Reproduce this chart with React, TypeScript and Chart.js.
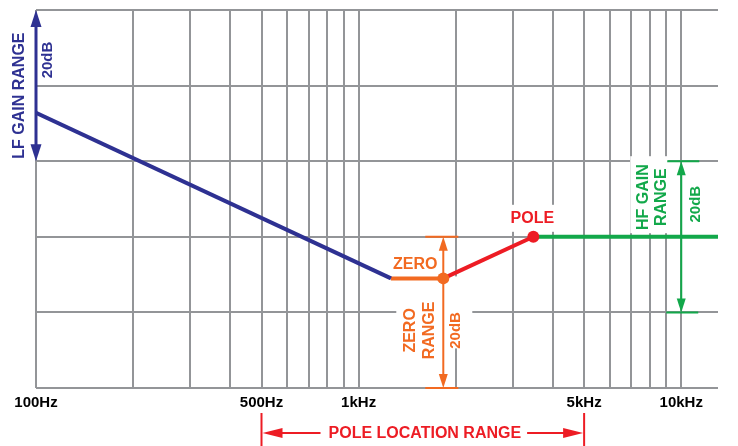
import React, { useEffect, useRef } from 'react';
import { Chart, registerables } from 'chart.js';

Chart.register(...registerables);

// ---- data ----
const freqTicks = [100, 200, 300, 400, 500, 600, 700, 800, 900, 1000, 2000, 3000, 4000, 5000, 6000, 7000, 8000, 9000, 10000];
const freqLabels: Record<number, string> = { 100: '100Hz', 500: '500Hz', 1000: '1kHz', 5000: '5kHz', 10000: '10kHz' };
const gainTicks = [0, 10, 20, 30, 40, 50];

const lfFreq = [100, 1260];
const lfGain = [36.4, 14.5];
const zeroSegFreq = [1260, 1830];
const zeroSegGain = [14.5, 14.5];
const poleSegFreq = [1830, 3480];
const poleSegGain = [14.5, 20];
const hfFreq = [3480, 13000];
const hfGain = [20, 20];

const zeroFreq = 1830;
const zeroGain = 14.5;
const poleFreq = 3480;
const poleGain = 20;

const lfRange = [30, 50];
const zeroRange = [0, 20];
const hfRange = [10, 30];
const hfRangeFreq = 10000;
const poleLocRange = [500, 5000];

const BLUE = '#2e3192';
const ORANGE = '#f26a21';
const RED = '#ed1c24';
const GREEN = '#12a84a';
const GRID = '#939598';
const FONT = '"Liberation Sans", Arial, Helvetica, sans-serif';

const pts = (xs: number[], ys: number[]) => xs.map((x, i) => ({ x, y: ys[i] }));

function head(ctx: CanvasRenderingContext2D, x: number, y: number, dir: string, len: number, half: number, color: string) {
  ctx.save();
  ctx.fillStyle = color;
  ctx.beginPath();
  if (dir === 'up') { ctx.moveTo(x, y); ctx.lineTo(x - half, y + len); ctx.lineTo(x + half, y + len); }
  if (dir === 'down') { ctx.moveTo(x, y); ctx.lineTo(x - half, y - len); ctx.lineTo(x + half, y - len); }
  if (dir === 'left') { ctx.moveTo(x, y); ctx.lineTo(x + len, y - half); ctx.lineTo(x + len, y + half); }
  if (dir === 'right') { ctx.moveTo(x, y); ctx.lineTo(x - len, y - half); ctx.lineTo(x - len, y + half); }
  ctx.closePath();
  ctx.fill();
  ctx.restore();
}

function line(ctx: CanvasRenderingContext2D, x1: number, y1: number, x2: number, y2: number, color: string, w: number) {
  ctx.save();
  ctx.strokeStyle = color;
  ctx.lineWidth = w;
  ctx.beginPath();
  ctx.moveTo(x1, y1);
  ctx.lineTo(x2, y2);
  ctx.stroke();
  ctx.restore();
}

function text(ctx: CanvasRenderingContext2D, t: string, x: number, y: number, color: string, size: number, rotate = false) {
  ctx.save();
  ctx.translate(x, y);
  if (rotate) ctx.rotate(-Math.PI / 2);
  ctx.fillStyle = color;
  ctx.font = `bold ${size}px ${FONT}`;
  ctx.textAlign = 'center';
  ctx.textBaseline = 'middle';
  ctx.fillText(t, 0, 0);
  ctx.restore();
}

const annotations = {
  id: 'annotations',
  beforeDatasetsDraw(chart: any) {
    const ctx = chart.ctx as CanvasRenderingContext2D;
    const xs = chart.scales.x;
    const ys = chart.scales.y;
    ctx.save();
    ctx.fillStyle = '#ffffff';
    const xz = xs.getPixelForValue(zeroFreq);
    const yMid = (ys.getPixelForValue(zeroRange[0]) + ys.getPixelForValue(zeroRange[1])) / 2;
    ctx.fillRect(xz - 47, yMid - 36, 76, 72);
    const xp = xs.getPixelForValue(poleFreq);
    const yp = ys.getPixelForValue(poleGain);
    ctx.fillRect(xp - 26, yp - 32, 52, 27);
    const xh = xs.getPixelForValue(hfRangeFreq);
    const yh = ys.getPixelForValue(hfRange[1]);
    ctx.fillRect(xh - 51, yh - 5, 38, 77);
    ctx.restore();
  },
  afterDatasetsDraw(chart: any) {
    const ctx = chart.ctx as CanvasRenderingContext2D;
    const xs = chart.scales.x;
    const ys = chart.scales.y;

    // LF gain range
    const xl = xs.getPixelForValue(lfFreq[0]);
    const yl1 = ys.getPixelForValue(lfRange[1]);
    const yl0 = ys.getPixelForValue(lfRange[0]);
    line(ctx, xl, yl1 + 10, xl, yl0 - 10, BLUE, 3);
    head(ctx, xl, yl1, 'up', 17, 5.5, BLUE);
    head(ctx, xl, yl0, 'down', 17, 5.5, BLUE);
    text(ctx, 'LF GAIN RANGE', xl - 16, (yl0 + yl1) / 2 + 10, BLUE, 16, true);
    text(ctx, '20dB', xl + 12, yl1 + 50, BLUE, 15, true);

    // zero range
    const xz = xs.getPixelForValue(zeroFreq);
    const yzt = ys.getPixelForValue(zeroRange[1]);
    const yzb = ys.getPixelForValue(zeroRange[0]);
    line(ctx, xz - 18, yzt, xz + 15, yzt, ORANGE, 2);
    line(ctx, xz - 18, yzb, xz + 15, yzb, ORANGE, 2);
    line(ctx, xz, yzt + 8, xz, yzb - 8, ORANGE, 2);
    head(ctx, xz, yzt, 'up', 14, 4.5, ORANGE);
    head(ctx, xz, yzb, 'down', 14, 4.5, ORANGE);
    const yzMid = (yzt + yzb) / 2 + 18;
    const yzp = ys.getPixelForValue(zeroGain);
    text(ctx, 'ZERO', xz - 28, yzp - 14, ORANGE, 16);
    text(ctx, 'ZERO', xz - 33, yzMid, ORANGE, 16, true);
    text(ctx, 'RANGE', xz - 14, yzMid, ORANGE, 16, true);
    text(ctx, '20dB', xz + 13, yzMid, ORANGE, 15, true);

    // pole label
    const xp = xs.getPixelForValue(poleFreq);
    const yp = ys.getPixelForValue(poleGain);
    text(ctx, 'POLE', xp - 1, yp - 18, RED, 16);

    // HF gain range
    const xh = xs.getPixelForValue(hfRangeFreq);
    const yht = ys.getPixelForValue(hfRange[1]);
    const yhb = ys.getPixelForValue(hfRange[0]);
    line(ctx, xh - 14, yht, xh + 18, yht, GREEN, 2);
    line(ctx, xh - 15, yhb, xh + 17, yhb, GREEN, 2);
    line(ctx, xh, yht + 8, xh, yhb - 8, GREEN, 2);
    head(ctx, xh, yht, 'up', 14, 4.5, GREEN);
    head(ctx, xh, yhb, 'down', 14, 4.5, GREEN);
    text(ctx, 'HF GAIN', xh - 38, yht + 36, GREEN, 16, true);
    text(ctx, 'RANGE', xh - 20, yht + 36, GREEN, 16, true);
    text(ctx, '20dB', xh + 15, yht + 43, GREEN, 15, true);

    // pole location range (below axis)
    const xa = xs.getPixelForValue(poleLocRange[0]);
    const xb = xs.getPixelForValue(poleLocRange[1]);
    const yTop = chart.chartArea.bottom + 25;
    const ya = chart.chartArea.bottom + 45;
    line(ctx, xa, yTop, xa, chart.height, RED, 2);
    line(ctx, xb, yTop, xb, chart.height, RED, 2);
    const mid = (xa + xb) / 2 + 2;
    ctx.save();
    ctx.font = `bold 16px ${FONT}`;
    const tw = ctx.measureText('POLE LOCATION RANGE').width;
    ctx.restore();
    line(ctx, xa + 10, ya, mid - tw / 2 - 8, ya, RED, 2);
    line(ctx, mid + tw / 2 + 6, ya, xb - 10, ya, RED, 2);
    head(ctx, xa + 1, ya, 'left', 20, 5, RED);
    head(ctx, xb - 1, ya, 'right', 20, 5, RED);
    text(ctx, 'POLE LOCATION RANGE', mid, ya + 1, RED, 16);
  },
};

export default function App() {
  const ref = useRef<HTMLCanvasElement | null>(null);

  useEffect(() => {
    document.body.style.margin = '0';
    const canvas = ref.current;
    if (!canvas) return;
    const chart = new Chart(canvas, {
      type: 'line',
      data: {
        datasets: [
          { data: pts(lfFreq, lfGain), borderColor: BLUE, borderWidth: 4, pointRadius: 0, order: 2 },
          { data: pts(zeroSegFreq, zeroSegGain), borderColor: ORANGE, borderWidth: 4, pointRadius: 0, order: 2 },
          { data: pts(poleSegFreq, poleSegGain), borderColor: RED, borderWidth: 4, pointRadius: 0, order: 2 },
          { data: pts(hfFreq, hfGain), borderColor: GREEN, borderWidth: 4, pointRadius: 0, order: 2 },
          { data: [{ x: zeroFreq, y: zeroGain }], showLine: false, pointRadius: 6, pointBackgroundColor: ORANGE, pointBorderWidth: 0, borderColor: ORANGE, order: 0 },
          { data: [{ x: poleFreq, y: poleGain }], showLine: false, pointRadius: 6, pointBackgroundColor: RED, pointBorderWidth: 0, borderColor: RED, order: 0 },
        ],
      },
      options: {
        animation: false,
        responsive: false,
        layout: { padding: { left: 36, top: 10, right: 20, bottom: 0 } },
        plugins: { legend: { display: false }, tooltip: { enabled: false } },
        scales: {
          x: {
            type: 'logarithmic',
            min: 100,
            max: 13000,
            afterBuildTicks: (axis: any) => {
              axis.ticks = freqTicks.map((v) => ({ value: v }));
            },
            afterFit: (axis: any) => { axis.height = 58; },
            grid: { color: GRID, lineWidth: 2, drawTicks: false },
            border: { display: false },
            ticks: {
              autoSkip: false,
              maxRotation: 0,
              padding: 6,
              color: '#000000',
              font: { family: FONT, size: 15, weight: 'bold' },
              callback: (v: any) => freqLabels[Number(v)] ?? '',
            },
          },
          y: {
            type: 'linear',
            min: gainTicks[0],
            max: gainTicks[gainTicks.length - 1],
            afterBuildTicks: (axis: any) => {
              axis.ticks = gainTicks.map((v) => ({ value: v }));
            },
            afterFit: (axis: any) => { axis.width = 0; },
            grid: { color: GRID, lineWidth: 2, drawTicks: false },
            border: { display: false },
            ticks: { display: false },
          },
        },
      } as any,
      plugins: [annotations],
    });
    return () => chart.destroy();
  }, []);

  return (
    <div style={{ width: 738, height: 446 }}>
      <canvas ref={ref} width={738} height={446} />
    </div>
  );
}
